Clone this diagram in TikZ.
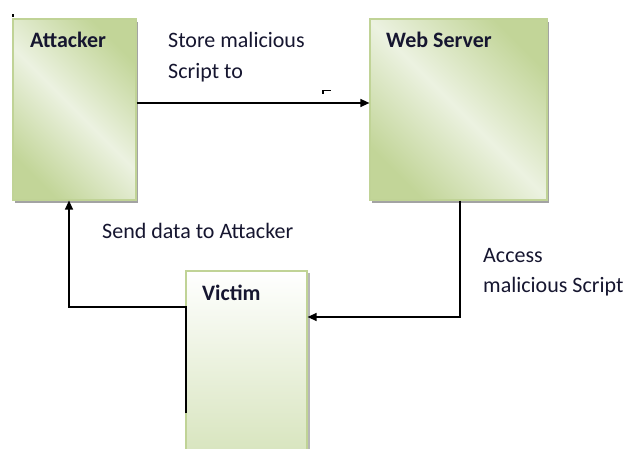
\documentclass[tikz,border=0pt]{standalone}
\usepackage{fontspec}
\setmainfont{Carlito}
\usetikzlibrary{arrows.meta,shadows}

\definecolor{boxedge}{RGB}{192,211,150}
\definecolor{boxdark}{RGB}{194,213,152}
\definecolor{boxlight}{RGB}{236,242,225}
\definecolor{vicgreen}{RGB}{212,226,184}
\definecolor{ink}{RGB}{22,22,48}

\tikzset{
  actor/.style={draw=boxedge, line width=1.2pt, inner sep=0pt,
    shading=axis, top color=boxdark, bottom color=boxdark, middle color=boxlight,
    shading angle=-45,
    drop shadow={shadow xshift=2pt, shadow yshift=-3pt, fill=black!45, opacity=0.8}},
  victimbox/.style={draw=boxedge, line width=1.2pt, inner sep=0pt,
    shading=axis, top color=white, bottom color=vicgreen,
    drop shadow={shadow xshift=3pt, shadow yshift=-2pt, fill=black!35, opacity=0.8}},
  title/.style={anchor=base west, inner sep=0pt, text=ink,
    font=\fontsize{22}{26}\selectfont\bfseries},
  caption/.style={anchor=base west, inner sep=0pt, text=ink,
    font=\fontsize{22}{26}\selectfont},
  conn/.style={draw=black, line width=1.3pt,
    -{Triangle[length=9pt,width=8pt]}},
}

\begin{document}
\begin{tikzpicture}[x=1pt,y=-1pt]
  \useasboundingbox (0,0) rectangle (629,449);
  \clip (0,0) rectangle (629,449);
  \fill[white] (0,0) rectangle (629,449);

  % the three parties
  \node[actor, minimum width=123pt, minimum height=181pt] (att) at (74.5,109.5) {};
  \node[actor, minimum width=177pt, minimum height=181pt] (web) at (458.5,109.5) {};
  \node[victimbox, minimum width=121pt, minimum height=200pt] (vic) at (246.5,371) {};

  \node[title] (attT) at (30,48) {Attacker};
  \node[title] (webT) at (386,48) {Web Server};
  \node[title] (vicT) at (202,300) {Victim};

  % labels of the steps
  \node[caption] (s1a) at (168,48) {Store malicious};
  \node[caption] (s1b) at (168,79) {Script to};
  \node[caption] (s3)  at (102,239) {Send data to Attacker};
  \node[caption] (s2a) at (483,262) {Access};
  \node[caption] (s2b) at (483,292) {malicious Script};

  % store: attacker -> web server
  \draw[conn] ([yshift=6.5pt]att.east) -- ([yshift=6.5pt]web.west);

  % access: web server -> victim
  \draw[conn] ([xshift=1.5pt]web.south) |- ([yshift=54pt]vic.east);

  % send data: victim -> attacker
  \coordinate (tail) at (186,413);
  \coordinate (bend) at (69,307);
  \draw[conn] (tail) |- (bend) -- ([xshift=-5.5pt]att.south);

  % small stray marks
  \fill[black] (11.5,14.5) rectangle (14,17);
  \draw[black, line width=1.1pt] (323,94) -- (323,90.5) -- (331,90.5);
\end{tikzpicture}
\end{document}
